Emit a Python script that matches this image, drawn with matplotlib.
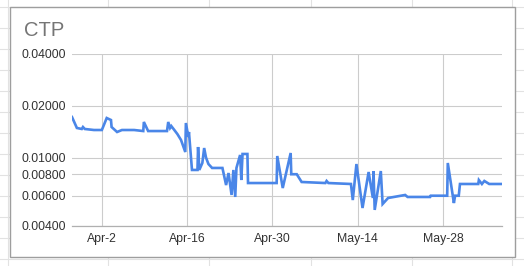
import datetime as dt
import numpy as np
import matplotlib
matplotlib.use("Agg")
import matplotlib.pyplot as plt
import matplotlib.dates as mdates
from matplotlib.lines import Line2D
from matplotlib.patches import Rectangle

plt.rcParams['font.family'] = ['Liberation Sans', 'DejaVu Sans']

title = "CTP"
base_date = dt.datetime(2020, 4, 2)
# days relative to Apr-2
day_offsets = [-4.9, -4.1, -3.3, -3.1, -2.8, -1.3, 0.0, 0.8, 1.5, 1.6,
               2.5, 3.3, 5.3, 6.8, 6.9, 7.6, 10.7, 10.9, 11.2, 11.4,
               11.9, 12.4, 13.0, 13.7, 13.8, 14.2, 14.3, 14.8, 15.7, 15.8,
               16.0, 16.5, 16.8, 17.1, 17.5, 18.1, 19.8, 20.4, 20.8, 21.3,
               21.6, 21.9, 22.1, 22.7, 22.9, 23.1, 23.9, 24.0, 28.7, 28.8,
               29.7, 31.0, 31.1, 32.0, 32.8, 36.7, 36.9, 37.2, 40.9, 41.2,
               41.8, 42.8, 43.8, 44.5, 44.6, 44.8, 45.8, 46.1, 47.0, 49.8,
               50.2, 53.9, 54.0, 56.7, 56.8, 57.8, 58.0, 58.6, 58.8, 61.8,
               61.9, 62.4, 62.8, 63.6, 65.7]
ctp_values = [0.0172, 0.01486, 0.01466, 0.01505, 0.01466, 0.01446, 0.01446, 0.01698, 0.01653, 0.01505,
              0.01408, 0.01446, 0.01446, 0.01426, 0.0161, 0.01426, 0.01426, 0.0161, 0.01486, 0.01525,
              0.01446, 0.0137, 0.01265, 0.01077, 0.01588, 0.01317, 0.01408, 0.00847, 0.00847, 0.01152,
              0.00847, 0.0093, 0.01136, 0.0100, 0.00917, 0.0087, 0.0087, 0.00692, 0.00813, 0.00606,
              0.00847, 0.0059, 0.0087, 0.01035, 0.0074, 0.01049, 0.01049, 0.00711, 0.00711, 0.01021,
              0.00665, 0.01063, 0.0080, 0.0080, 0.00721, 0.00711, 0.00731, 0.00711, 0.00702, 0.00566,
              0.00917, 0.00509, 0.00824, 0.00582, 0.00835, 0.00496, 0.00835, 0.00537, 0.00582, 0.00606,
              0.0059, 0.0059, 0.0060, 0.0060, 0.0093, 0.00544, 0.0060, 0.0060, 0.00702, 0.00702,
              0.0074, 0.00702, 0.00731, 0.00702, 0.00702]
y_ticks = [0.004, 0.006, 0.008, 0.01, 0.02, 0.04]
y_tick_labels = ["0.00400", "0.00600", "0.00800", "0.01000", "0.02000", "0.04000"]
x_tick_offsets = [0, 14, 28, 42, 56]
x_tick_labels = ["Apr-2", "Apr-16", "Apr-30", "May-14", "May-28"]

W, H = 524, 266
fig = plt.figure(figsize=(W / 100, H / 100), dpi=100)
fig.patch.set_facecolor('white')

# spreadsheet cell grid in background
cell_col = '#e2e2e2'
for yy in [7, 28, 49, 70, 91, 112, 133, 154, 175, 196, 217, 238, 259]:
    fig.add_artist(Line2D([0, 1], [1 - yy / H, 1 - yy / H], transform=fig.transFigure,
                          color=cell_col, lw=0.8, zorder=0))
for xx in [8, 108, 209, 311, 412, 512]:
    fig.add_artist(Line2D([xx / W, xx / W], [0, 1], transform=fig.transFigure,
                          color=cell_col, lw=0.8, zorder=0))

# chart box
fig.add_artist(Rectangle((10 / W, 1 - 257 / H), (515 - 10) / W, (257 - 7) / H,
                         transform=fig.transFigure, facecolor='white',
                         edgecolor='#9e9e9e', lw=1.0, zorder=1))

ax = fig.add_axes([72 / W, 1 - 226 / H, (502 - 72) / W, (226 - 54) / H])
ax.set_zorder(2)
ax.patch.set_alpha(0)

base_num = mdates.date2num(base_date)
xs = base_num + np.array(day_offsets)
ax.plot(xs, ctp_values, color='#4a86e8', lw=1.9, solid_joinstyle='miter', zorder=3)

ax.set_yscale('log')
ax.set_ylim(0.004, 0.04)
ax.set_yticks(y_ticks)
ax.set_yticklabels(y_tick_labels)
ax.yaxis.set_minor_locator(matplotlib.ticker.NullLocator())
ax.set_xlim(xs.min(), xs.max())
ax.set_xticks(base_num + np.array(x_tick_offsets))
ax.set_xticklabels(x_tick_labels)

ax.grid(True, which='major', color='#cccccc', lw=0.8)
ax.set_axisbelow(True)
for s in ['top', 'right', 'left']:
    ax.spines[s].set_visible(False)
ax.spines['bottom'].set_color('#b0b0b0')
ax.spines['bottom'].set_linewidth(0.9)
ax.tick_params(axis='both', length=0, labelsize=8.8, labelcolor='#333333')
ax.tick_params(axis='y', pad=4)
ax.tick_params(axis='x', pad=5)

fig.text(24 / W, 1 - 36 / H, title, fontsize=14.5, color='#757575', va='baseline', ha='left')

fig.savefig('out.png', dpi=100)
